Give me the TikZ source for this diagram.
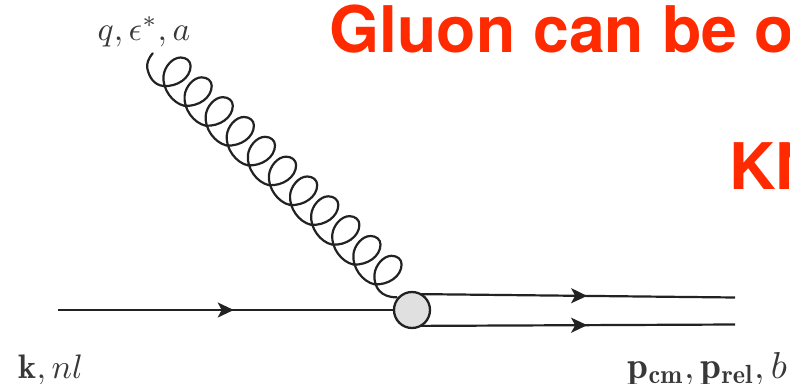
\documentclass[tikz,border=0pt]{standalone}
\usepackage{fontspec}
\newfontfamily\headfont{TeX Gyre Heros}[BoldFont={* Bold}]
\usetikzlibrary{arrows.meta,decorations.markings}
\definecolor{headred}{HTML}{FF2A00}
\definecolor{ink}{HTML}{222222}
\definecolor{blobgray}{HTML}{E0E0E0}
\tikzset{
  headline/.style={text=headred,inner sep=0pt,font=\headfont\bfseries\fontsize{64.3}{64.3}\selectfont,anchor=base west},
  mathlabel/.style={text=ink!90,inner sep=0pt,anchor=base west},
  fermion/.style={ink,line width=2.2pt,postaction={decorate},decoration={markings,mark=at position #1 with {\arrow{Stealth[length=16pt,width=15pt,inset=4pt]}}}},
  gluonline/.style={ink,line width=2.2pt,line cap=round,line join=round},
  blob/.style={circle,draw=ink,line width=2.3pt,fill=blobgray,minimum size=36pt,inner sep=0pt,outer sep=0pt}
}
\begin{document}
\begin{tikzpicture}[x=1pt,y=-1pt]
\useasboundingbox (0,0) rectangle (790,383);
\clip (0,0) rectangle (790,383);
\node[headline] (head1) at (329.5,52.5) {Gluon can be o};
\node[headline] (head2) at (729,189) {KN};
\coordinate (gstart) at (152.7,53.3);
\coordinate (gend) at (396.7,297.3);
\coordinate (kin) at (58,310);
\coordinate (pa) at (735,297.5);
\coordinate (pb) at (735,324.5);
\node[blob] (v) at (412,310) {};
\draw[gluonline] (gstart) .. controls (148,59) and (146.5,64) .. (147.3,68.3)
  .. controls (149,77) and (154,85) .. (163.3,86)
  \foreach \i [evaluate=\i as \x using 163.3+21.1*\i, evaluate=\i as \y using 86+19.83*\i] in {0,...,10} {
    .. controls (\x+14,\y+1) and (\x+27.3,\y-8) .. (\x+27.3,\y-20)
    .. controls (\x+27.3,\y-25) and (\x+23,\y-28.5) .. (\x+17.3,\y-28.5)
    .. controls (\x+9,\y-28.5) and (\x+1,\y-19) .. (\x+0.2,\y-10)
    \ifnum\i<10
    .. controls (\x-1,\y+3) and (\x+9,\y+17) .. (\x+21.1,\y+19.83)
    \fi
  }
  .. controls (373.5,288) and (381.5,297.5) .. (gend);
\draw[fermion=0.523] (kin) -- (v.west);
\draw[fermion=0.53] (v.62) -- (pa);
\draw[fermion=0.53] (v.-62) -- (pb);
\node[mathlabel,scale=3.35] (lq) at (97,40) {$q,\epsilon^{*},a$};
\node[mathlabel,scale=3.4] (lk) at (18,378) {$\mathbf{k},nl$};
\node[mathlabel,scale=3.75] (lp) at (627,378) {$\mathbf{p_{cm}},\mathbf{p_{rel}},b$};
\end{tikzpicture}
\end{document}
